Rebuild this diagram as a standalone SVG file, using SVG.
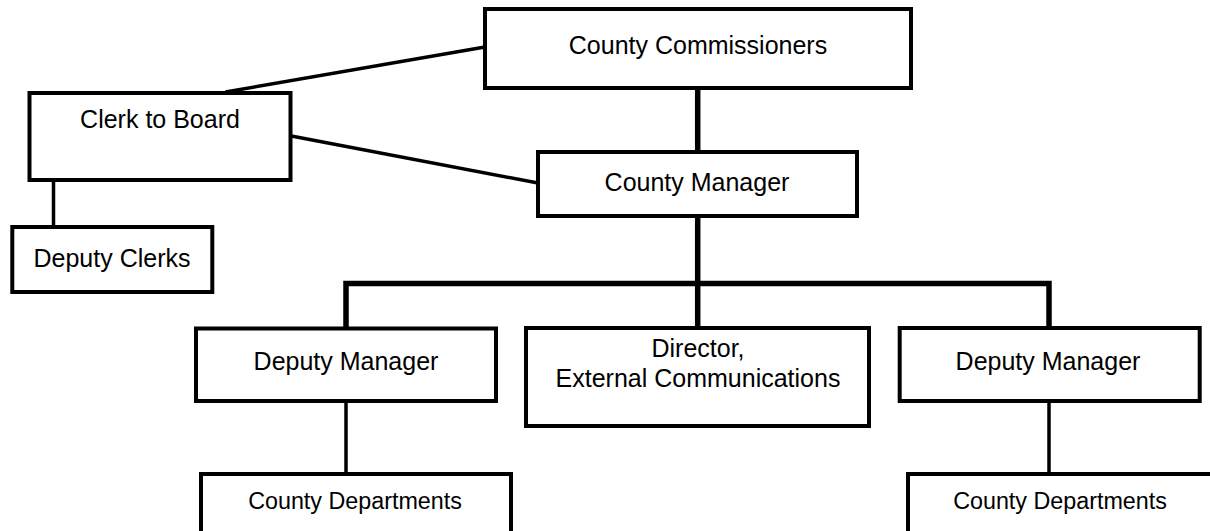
<svg xmlns="http://www.w3.org/2000/svg" width="1210" height="531" viewBox="0 0 1210 531">
<style>
.box{fill:#fff;stroke:#000;stroke-width:4}
.t{font-family:"Liberation Sans",Arial,sans-serif;font-size:25px;fill:#000;text-anchor:middle}
.s{font-size:23.3px}
.c{stroke:#000;fill:none;stroke-width:3.5}
.k{stroke:#000;fill:none;stroke-width:5.5}
</style>
<rect width="1210" height="531" fill="#fff"/>
<g id="connectors">
<line class="c" x1="225.5" y1="92" x2="485" y2="47"/>
<line class="c" x1="290" y1="135.7" x2="538" y2="183"/>
<line class="c" x1="53.5" y1="180" x2="53.5" y2="228" stroke-width="4"/>
<line class="k" x1="697.7" y1="88" x2="697.7" y2="150"/>
<line class="k" x1="697.7" y1="216" x2="697.7" y2="327"/>
<polyline class="k" points="346,328 346,283.5 1049,283.5 1049,328"/>
<line class="c" x1="346" y1="402" x2="346" y2="473" stroke-width="3"/>
<line class="c" x1="1049" y1="402" x2="1049" y2="473" stroke-width="3"/>
</g>
<g id="commissioners"><rect class="box" x="485" y="9" width="426" height="79"/><text class="t" x="698" y="54">County Commissioners</text></g>
<g id="clerk"><rect class="box" x="29.5" y="93" width="261" height="87"/><text class="t" x="160" y="128">Clerk to Board</text></g>
<g id="deputy-clerks"><rect class="box" x="12.3" y="227" width="200" height="65"/><text class="t" x="112" y="267">Deputy Clerks</text></g>
<g id="manager"><rect class="box" x="538" y="152" width="319" height="64"/><text class="t" x="697" y="191">County Manager</text></g>
<g id="deputy-left"><rect class="box" x="196" y="328.5" width="300" height="72.5"/><text class="t" x="346" y="370">Deputy Manager</text></g>
<g id="director"><rect class="box" x="526" y="328" width="343" height="98"/><text class="t" x="698" y="356.7">Director,</text><text class="t" x="698" y="386.7">External Communications</text></g>
<g id="deputy-right"><rect class="box" x="899.7" y="328" width="300" height="73"/><text class="t" x="1048" y="370">Deputy Manager</text></g>
<g id="departments-left"><rect class="box" x="201" y="474" width="310" height="80"/><text class="t s" x="355" y="509">County Departments</text></g>
<g id="departments-right"><rect class="box" x="908" y="474" width="320" height="80"/><text class="t s" x="1060" y="509">County Departments</text></g>
</svg>
